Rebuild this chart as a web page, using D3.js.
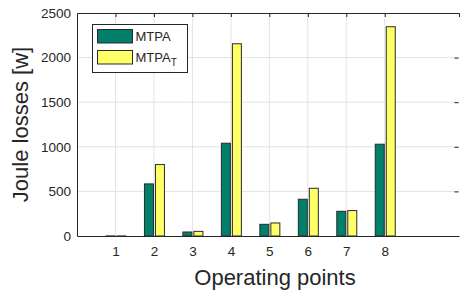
<!DOCTYPE html>
<html>
<head>
<meta charset="utf-8">
<script src="https://cdn.jsdelivr.net/npm/d3@7"></script>
<style>
  body { margin: 0; background: #fff; }
  svg { display: block; font-family: Arial, "Liberation Sans", Helvetica, sans-serif; }
</style>
</head>
<body>
<div id="chart"></div>
<script>
// Operating points and losses
const points = [1, 2, 3, 4, 5, 6, 7, 8];
const mtpa = [1, 584, 45, 1040, 131, 412, 277, 1029];
const mtpaT = [1, 801, 52, 2155, 146, 535, 285, 2346];
const yTicks = [0, 500, 1000, 1500, 2000, 2500];

const width = 460;
const height = 296;
const margin = { top: 13, right: 1, bottom: 60, left: 77 };

const svg = d3
  .select("#chart")
  .append("svg")
  .attr("width", width)
  .attr("height", height);

const x = d3.scaleLinear().domain([0, 9.93]).range([margin.left, width - margin.right]);
const y = d3.scaleLinear().domain([0, 2500]).range([height - margin.bottom, margin.top]);

// Grid
svg
  .append("g")
  .selectAll("line")
  .data(points)
  .join("line")
  .attr("x1", (d) => x(d))
  .attr("x2", (d) => x(d))
  .attr("y1", y(0))
  .attr("y2", y(2500))
  .attr("stroke", "#e3e3e3")
  .attr("stroke-width", 1);

svg
  .append("g")
  .selectAll("line")
  .data(yTicks.slice(1, -1))
  .join("line")
  .attr("x1", x.range()[0])
  .attr("x2", x.range()[1])
  .attr("y1", (d) => y(d))
  .attr("y2", (d) => y(d))
  .attr("stroke", "#e3e3e3")
  .attr("stroke-width", 1);

// Bars
const barW = 9;
const series = [
  { values: mtpa, color: "#00806a", offset: -9.5 },
  { values: mtpaT, color: "#ffff66", offset: 1.5 },
];
series.forEach((s) => {
  svg
    .append("g")
    .selectAll("rect")
    .data(points)
    .join("rect")
    .attr("x", (d, i) => x(d) + s.offset)
    .attr("y", (d, i) => y(s.values[i]))
    .attr("width", barW)
    .attr("height", (d, i) => y(0) - y(s.values[i]))
    .attr("fill", s.color)
    .attr("stroke", "#2a2a2a")
    .attr("stroke-width", 1);
});

// Axes
const xAxis = d3.axisBottom(x).tickValues(points).tickSize(0).tickPadding(0);
const gx = svg.append("g").attr("transform", `translate(0,${y(0)})`).call(xAxis);
gx.select(".domain").attr("stroke", "#262626");
gx.selectAll("text").attr("font-size", 13.5).attr("fill", "#262626").attr("dy", "1.45em");

const gxTop = svg.append("g").attr("transform", `translate(0,${y(2500)})`)
  .call(d3.axisBottom(x).tickValues(points).tickSize(4).tickFormat(""));
gxTop.select(".domain").attr("stroke", "#262626");
gxTop.selectAll("line").attr("stroke", "#262626");

const yAxis = d3.axisLeft(y).tickValues(yTicks).tickFormat(d3.format("d")).tickSize(0).tickPadding(6);
const gy = svg.append("g").attr("transform", `translate(${x(0)},0)`).call(yAxis);
gy.select(".domain").attr("stroke", "#262626");
gy.selectAll("text").attr("font-size", 13.5).attr("fill", "#262626");

const gyRight = svg.append("g").attr("transform", `translate(${width - margin.right - 0.5},0)`)
  .call(d3.axisRight(y).tickValues(yTicks).tickSize(-4).tickFormat(""));
gyRight.select(".domain").remove();
gyRight.selectAll("line").attr("stroke", "#262626");

// Axis labels
svg
  .append("text")
  .attr("x", 275)
  .attr("y", 285)
  .attr("text-anchor", "middle")
  .attr("font-size", 22)
  .attr("fill", "#262626")
  .text("Operating points");

svg
  .append("text")
  .attr("transform", `translate(28,${(y(0) + y(2500)) / 2}) rotate(-90)`)
  .attr("text-anchor", "middle")
  .attr("font-size", 22)
  .attr("fill", "#262626")
  .text("Joule losses [w]");

// Legend
const legend = svg.append("g").attr("transform", "translate(92.5,24.5)");
legend
  .append("rect")
  .attr("width", 95)
  .attr("height", 48)
  .attr("fill", "#fff")
  .attr("stroke", "#262626")
  .attr("stroke-width", 1);

const legendItems = [
  { label: "MTPA", sub: "", color: "#00806a" },
  { label: "MTPA", sub: "T", color: "#ffff66" },
];
legendItems.forEach((d, i) => {
  const g = legend.append("g").attr("transform", `translate(5,${5 + i * 21})`);
  g.append("rect")
    .attr("width", 35)
    .attr("height", 13.5)
    .attr("fill", d.color)
    .attr("stroke", "#2a2a2a");
  const t = g.append("text")
    .attr("x", 38)
    .attr("y", 11.5)
    .attr("font-size", 13)
    .attr("fill", "#262626")
    .text(d.label);
  if (d.sub) {
    t.append("tspan").attr("font-size", 10).attr("dy", 4).text(d.sub);
  }
});
</script>
</body>
</html>
